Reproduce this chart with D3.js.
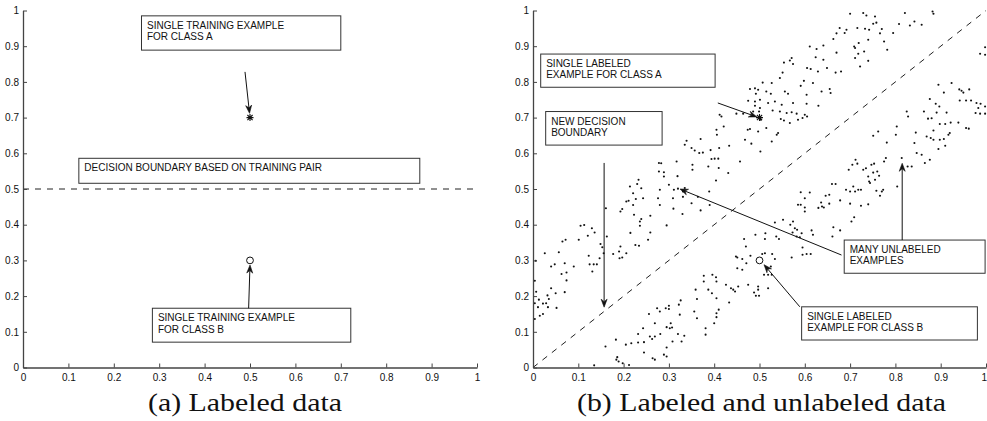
<!DOCTYPE html>
<html><head><meta charset="utf-8">
<script src="https://cdn.jsdelivr.net/npm/d3@7/dist/d3.min.js"></script>
<style>body{margin:0;background:#fff}svg{display:block}</style>
</head><body>
<svg id="chart" width="987" height="421"></svg>
<script>
// ---------- DATA ----------
const tickValues = [0,0.1,0.2,0.3,0.4,0.5,0.6,0.7,0.8,0.9,1];
const tickLabels = ["0","0.1","0.2","0.3","0.4","0.5","0.6","0.7","0.8","0.9","1"];
const labeledA = [[0.5,0.7]];
const labeledB = [[0.5,0.3]];
const boundaryLeft = [[0,0.5],[1,0.5]];
const boundaryRight = [[0,0],[1,1]];
const captions = ["(a) Labeled data","(b) Labeled and unlabeled data"];
const unlabeledUpper = [
[0.233,0.526],[0.230,0.514],[0.239,0.502],[0.214,0.507],[0.221,0.488],[0.243,0.474],[0.227,0.472],[0.211,0.467],[0.206,0.465],[0.221,0.455],
[0.197,0.444],[0.193,0.437],[0.161,0.446],[0.259,0.425],[0.239,0.416],[0.223,0.428],[0.236,0.409],[0.236,0.397],[0.113,0.399],[0.105,0.397],
[0.130,0.390],[0.136,0.378],[0.121,0.369],[0.072,0.358],[0.065,0.353],[0.101,0.358],[0.215,0.377],[0.259,0.378],[0.254,0.358],[0.163,0.367],
[0.149,0.346],[0.153,0.337],[0.193,0.339],[0.190,0.325],[0.226,0.343],[0.234,0.341],[0.206,0.320],[0.156,0.320],[0.026,0.320],[0.057,0.323],
[0.123,0.313],[0.147,0.306],[0.006,0.299],[0.070,0.292],[0.048,0.289],[0.040,0.283],[0.090,0.283],[0.125,0.289],[0.134,0.289],[0.141,0.289],
[0.191,0.306],[0.197,0.308],[0.131,0.269],[0.177,0.318],[0.074,0.266],[0.063,0.262],[0.074,0.244],[0.004,0.243],[0.040,0.222],[0.050,0.208],
[0.070,0.211],[0.007,0.212],[0.032,0.202],[0.035,0.192],[0.013,0.190],[0.004,0.180],[0.022,0.179],[0.029,0.180],[0.033,0.169],[0.011,0.169],
[0.052,0.167],[0.004,0.136],[0.015,0.145],[0.022,0.150],[0.295,0.398],
[0.28,0.455],[0.31,0.445],[0.33,0.43],[0.35,0.46],[0.37,0.44],[0.39,0.455],
[0.571,0.867],[0.567,0.860],[0.554,0.854],[0.574,0.850],[0.605,0.839],[0.551,0.826],[0.545,0.811],[0.598,0.803],[0.591,0.789],[0.507,0.798],
[0.527,0.797],[0.479,0.780],[0.490,0.782],[0.497,0.778],[0.515,0.773],[0.525,0.767],[0.492,0.767],[0.556,0.773],[0.563,0.767],[0.604,0.764],
[0.475,0.747],[0.490,0.745],[0.501,0.750],[0.519,0.741],[0.534,0.745],[0.549,0.736],[0.574,0.741],[0.604,0.739],[0.490,0.733],[0.501,0.727],
[0.486,0.717],[0.499,0.717],[0.464,0.711],[0.449,0.711],[0.529,0.720],[0.545,0.717],[0.560,0.713],[0.571,0.715],[0.582,0.711],[0.600,0.708],
[0.605,0.703],[0.595,0.699],[0.547,0.696],[0.554,0.692],[0.567,0.685],[0.585,0.694],[0.503,0.694],[0.412,0.708],[0.416,0.703],[0.421,0.675],
[0.405,0.666],[0.406,0.652],[0.474,0.666],[0.479,0.668],[0.497,0.661],[0.515,0.671],[0.541,0.657],[0.538,0.652],[0.468,0.638],[0.482,0.627],
[0.527,0.633],[0.433,0.621],[0.370,0.640],[0.339,0.635],[0.335,0.624],[0.350,0.615],[0.357,0.608],[0.367,0.601],[0.375,0.602],[0.392,0.609],
[0.411,0.615],[0.394,0.584],[0.401,0.585],[0.409,0.585],[0.457,0.577],[0.502,0.605],[0.352,0.568],[0.352,0.554],[0.387,0.563],[0.410,0.559],
[0.317,0.577],[0.278,0.573],[0.283,0.572],[0.278,0.549],[0.289,0.547],[0.289,0.535],[0.319,0.536],[0.404,0.524],[0.431,0.545],[0.300,0.512],
[0.311,0.498],[0.320,0.501],[0.335,0.503],[0.331,0.493],[0.276,0.474],[0.309,0.474],[0.331,0.478],[0.364,0.478],[0.389,0.493],[0.280,0.498],
[0.700,0.991],[0.729,0.993],[0.736,0.986],[0.755,0.983],[0.758,0.966],[0.751,0.963],[0.821,0.993],[0.842,0.969],[0.858,0.960],[0.832,0.958],
[0.808,0.962],[0.882,0.997],[0.884,0.991],[0.677,0.951],[0.688,0.937],[0.692,0.946],[0.670,0.936],[0.716,0.951],[0.733,0.949],[0.742,0.946],
[0.770,0.948],[0.766,0.936],[0.795,0.937],[0.775,0.913],[0.782,0.890],[0.740,0.918],[0.719,0.909],[0.709,0.899],[0.711,0.895],[0.731,0.885],
[0.718,0.879],[0.711,0.867],[0.740,0.859],[0.722,0.843],[0.663,0.920],[0.670,0.882],[0.641,0.902],[0.626,0.892],[0.611,0.899],[0.624,0.869],
[0.641,0.862],[0.649,0.839],[0.668,0.826],[0.680,0.829],[0.629,0.829],[0.613,0.836],[0.618,0.797],[0.637,0.773],[0.655,0.780],[0.657,0.769],
[0.630,0.733]
];
const unlabeledLower = [
[0.135,0.006],
[0.466,0.360],[0.491,0.372],[0.513,0.376],[0.512,0.360],[0.470,0.339],[0.480,0.313],[0.448,0.311],[0.451,0.308],[0.462,0.304],[0.471,0.292],
[0.451,0.278],[0.462,0.274],[0.506,0.318],[0.512,0.320],[0.510,0.260],[0.519,0.260],[0.519,0.222],[0.497,0.227],[0.497,0.218],[0.488,0.210],
[0.492,0.201],[0.499,0.201],[0.475,0.232],[0.377,0.257],[0.396,0.260],[0.404,0.253],[0.405,0.241],[0.377,0.241],[0.426,0.232],[0.437,0.222],
[0.442,0.218],[0.446,0.213],[0.453,0.227],[0.359,0.218],[0.387,0.218],[0.395,0.208],[0.405,0.194],[0.362,0.192],[0.433,0.182],[0.326,0.188],
[0.322,0.176],[0.300,0.173],[0.293,0.166],[0.274,0.166],[0.280,0.157],[0.300,0.164],[0.256,0.150],[0.324,0.148],[0.356,0.157],[0.362,0.138],
[0.410,0.162],[0.405,0.152],[0.405,0.141],[0.400,0.124],[0.269,0.124],[0.304,0.124],[0.295,0.113],[0.302,0.110],[0.307,0.112],[0.243,0.110],
[0.281,0.094],[0.269,0.087],[0.232,0.094],[0.320,0.094],[0.334,0.089],[0.328,0.073],[0.308,0.073],[0.258,0.087],[0.263,0.080],[0.245,0.071],
[0.232,0.070],[0.217,0.068],[0.205,0.064],[0.183,0.078],[0.160,0.059],[0.295,0.056],[0.245,0.042],[0.381,0.110],[0.381,0.092],[0.289,0.036],
[0.295,0.031],[0.264,0.026],[0.269,0.022],[0.186,0.029],[0.184,0.022],[0.189,0.017],[0.212,0.007],[0.198,0.012],
[0.825,0.717],[0.828,0.703],[0.803,0.675],[0.801,0.652],[0.845,0.658],[0.762,0.661],[0.751,0.649],[0.781,0.630],[0.842,0.629],[0.847,0.601],
[0.814,0.587],[0.827,0.563],[0.836,0.563],[0.779,0.587],[0.775,0.577],[0.753,0.571],[0.747,0.568],[0.735,0.558],[0.712,0.582],[0.716,0.571],
[0.705,0.568],[0.697,0.554],[0.729,0.554],[0.751,0.546],[0.760,0.549],[0.764,0.537],[0.740,0.535],[0.742,0.521],[0.744,0.517],[0.755,0.526],
[0.773,0.498],[0.770,0.493],[0.758,0.495],[0.766,0.481],[0.668,0.514],[0.660,0.514],[0.691,0.498],[0.700,0.493],[0.707,0.507],[0.711,0.493],
[0.718,0.498],[0.724,0.498],[0.654,0.484],[0.646,0.481],[0.636,0.462],[0.638,0.451],[0.630,0.447],[0.642,0.448],[0.654,0.459],[0.678,0.468],
[0.700,0.459],[0.724,0.453],[0.740,0.457],[0.804,0.507],[0.709,0.421],[0.703,0.409],[0.611,0.490],[0.591,0.491],[0.600,0.474],[0.585,0.456],
[0.591,0.456],[0.600,0.448],[0.600,0.437],[0.663,0.393],[0.678,0.384],[0.661,0.367],[0.615,0.384],[0.618,0.372],[0.534,0.406],[0.552,0.414],
[0.574,0.409],[0.568,0.400],[0.578,0.390],[0.583,0.386],[0.573,0.378],[0.593,0.376],[0.537,0.367],[0.543,0.360],[0.582,0.367],[0.589,0.365],
[0.595,0.336],[0.595,0.316],[0.604,0.318],[0.613,0.318],[0.571,0.308],[0.528,0.318],[0.534,0.304],[0.525,0.283],[0.527,0.260],
[0.987,0.879],[0.998,0.897],[0.998,0.876],[0.895,0.792],[0.924,0.797],[0.907,0.770],[0.941,0.779],[0.946,0.775],[0.950,0.770],[0.963,0.779],
[0.876,0.752],[0.889,0.739],[0.897,0.731],[0.942,0.748],[0.956,0.748],[0.967,0.748],[0.979,0.741],[0.988,0.739],[0.983,0.727],[0.998,0.731],
[0.863,0.717],[0.872,0.697],[0.880,0.698],[0.891,0.714],[0.913,0.714],[0.922,0.686],[0.910,0.682],[0.898,0.682],[0.939,0.686],[0.956,0.671],
[0.962,0.669],[0.977,0.713],[0.987,0.711],[0.998,0.711],[0.884,0.664],[0.869,0.647],[0.878,0.643],[0.884,0.638],[0.898,0.638],[0.907,0.640],
[0.920,0.657],[0.917,0.652],[0.910,0.621],[0.895,0.612],[0.876,0.582],[0.865,0.573],[0.858,0.596]
];
// annotation texts
const leftNotes = [["SINGLE TRAINING EXAMPLE","FOR CLASS A"],["DECISION BOUNDARY BASED ON TRAINING PAIR"],["SINGLE TRAINING EXAMPLE","FOR CLASS B"]];
const rightNotes = [["SINGLE LABELED","EXAMPLE FOR CLASS A"],["NEW DECISION","BOUNDARY"],["MANY UNLABELED","EXAMPLES"],["SINGLE LABELED","EXAMPLE FOR CLASS B"]];

// ---------- LAYOUT (in data units of each panel) ----------
const leftBoxes = [[0.261,0.985,0.700,0.889],[0.123,0.586,0.874,0.516],[0.285,0.166,0.722,0.071]];
const rightBoxes = [[0.017,0.878,0.402,0.785],[0.028,0.717,0.285,0.623],[0.687,0.357,0.998,0.264],[0.593,0.170,0.981,0.077]];
const leftArrows = [[[0.489,0.828],[0.499,0.712]],[[0.497,0.166],[0.500,0.287]]];
const rightArrows = [[[0.408,0.741],[0.494,0.702]],[[0.157,0.573],[0.157,0.169]],[[0.681,0.315],[0.3245,0.5]],[[0.815,0.357],[0.815,0.572]],[[0.589,0.170],[0.510,0.288]]];

// ---------- DRAW ----------
const svg = d3.select("#chart");
const y = d3.scaleLinear([0,1],[367.5,10.5]);
const xL = d3.scaleLinear([0,1],[23,477]);
const xR = d3.scaleLinear([0,1],[533,986]);
const FONT = "'Liberation Sans', Arial, Helvetica, sans-serif";

function panel(x, notes, boxes, arrows, boundary, unl, isRight) {
  const g = svg.append("g");
  g.append("path").datum(boundary)
    .attr("d", d3.line().x(d=>x(d[0])).y(d=>y(d[1])))
    .attr("fill","none").attr("stroke","#222").attr("stroke-width",1).attr("stroke-dasharray","6,6");
  unl.forEach(arr => {
    g.append("g").selectAll("circle").data(arr).join("circle")
      .attr("cx",d=>x(d[0])).attr("cy",d=>y(d[1])).attr("r",1.05).attr("fill","#111");
  });
  const fmt = (d,i)=>tickLabels[i];
  const ax = g.append("g").attr("transform",`translate(0,${y(0)})`)
    .call(d3.axisBottom(x).tickValues(tickValues).tickFormat(fmt).tickSizeInner(-4).tickSizeOuter(0).tickPadding(6));
  const ay = g.append("g").attr("transform",`translate(${x(0)},0)`)
    .call(d3.axisLeft(y).tickValues(tickValues).tickFormat(fmt).tickSizeInner(-4).tickSizeOuter(0).tickPadding(4));
  [ax,ay].forEach(a=>{
    a.select(".domain").attr("stroke","#444").attr("stroke-width",1.3);
    a.selectAll(".tick line").attr("stroke","#444").attr("stroke-width",1);
    a.selectAll("text").attr("font-family",FONT).attr("font-size","10px").attr("fill","#111");
  });
  if (isRight) ax.selectAll(".tick text").filter((d,i)=>i===tickValues.length-1).attr("text-anchor","end").attr("dx","0.5px");
  boxes.forEach((b,i)=>{
    const x0=x(b[0]), y0=y(b[1]), x1=x(b[2]), y1=y(b[3]);
    g.append("rect").attr("x",x0).attr("y",y0).attr("width",x1-x0).attr("height",y1-y0)
      .attr("fill","#fff").attr("stroke","#333").attr("stroke-width",1);
    notes[i].forEach((t,j)=>{
      g.append("text").attr("x",x0+5.5).attr("y",y0+9.6+j*11.3).attr("dy","0.35em")
        .attr("font-family",FONT).attr("font-size","10px").attr("fill","#111").text(t);
    });
  });
  arrows.forEach(a=>{
    const [p,q]=a; const X1=x(p[0]),Y1=y(p[1]),X2=x(q[0]),Y2=y(q[1]);
    const ang=Math.atan2(Y2-Y1,X2-X1), L=8, W=3, N=5.5;
    const bx=X2-L*Math.cos(ang), by=Y2-L*Math.sin(ang);
    const nx=X2-N*Math.cos(ang), ny=Y2-N*Math.sin(ang);
    g.append("line").attr("x1",X1).attr("y1",Y1).attr("x2",nx).attr("y2",ny).attr("stroke","#111").attr("stroke-width",1);
    const px=-Math.sin(ang), py=Math.cos(ang);
    g.append("path").attr("d",`M${X2},${Y2}L${bx+W*px},${by+W*py}L${nx},${ny}L${bx-W*px},${by-W*py}Z`)
      .attr("fill","#111").attr("stroke","#111").attr("stroke-width",0.6);
  });
  g.selectAll(".star").data(labeledA).join("path").attr("class","star")
    .attr("transform",d=>`translate(${x(d[0])},${y(d[1])})`)
    .attr("d","M-3.5,0H3.5M0,-3.5V3.5M-2.6,-2.6L2.6,2.6M-2.6,2.6L2.6,-2.6")
    .attr("stroke","#111").attr("stroke-width",1.1).attr("fill","none");
  g.selectAll(".circ").data(labeledB).join("circle").attr("class","circ")
    .attr("cx",d=>x(d[0])).attr("cy",d=>y(d[1])).attr("r",3.4)
    .attr("fill","none").attr("stroke","#111").attr("stroke-width",1);
}
panel(xL, leftNotes, leftBoxes, leftArrows, boundaryLeft, [], false);
panel(xR, rightNotes, rightBoxes, rightArrows, boundaryRight, [unlabeledUpper, unlabeledLower], true);

const capW = [194, 369];
[[xL,0],[xR,1]].forEach(([x,i])=>{
  svg.append("text").attr("x",(x(0)+x(1))/2 + (i===0?-5:2)).attr("y",411)
    .attr("text-anchor","middle").attr("font-family","'Liberation Serif','Times New Roman',serif")
    .attr("font-size","26px").attr("fill","#111")
    .attr("textLength",capW[i]).attr("lengthAdjust","spacingAndGlyphs").text(captions[i]);
});
</script>
</body></html>
